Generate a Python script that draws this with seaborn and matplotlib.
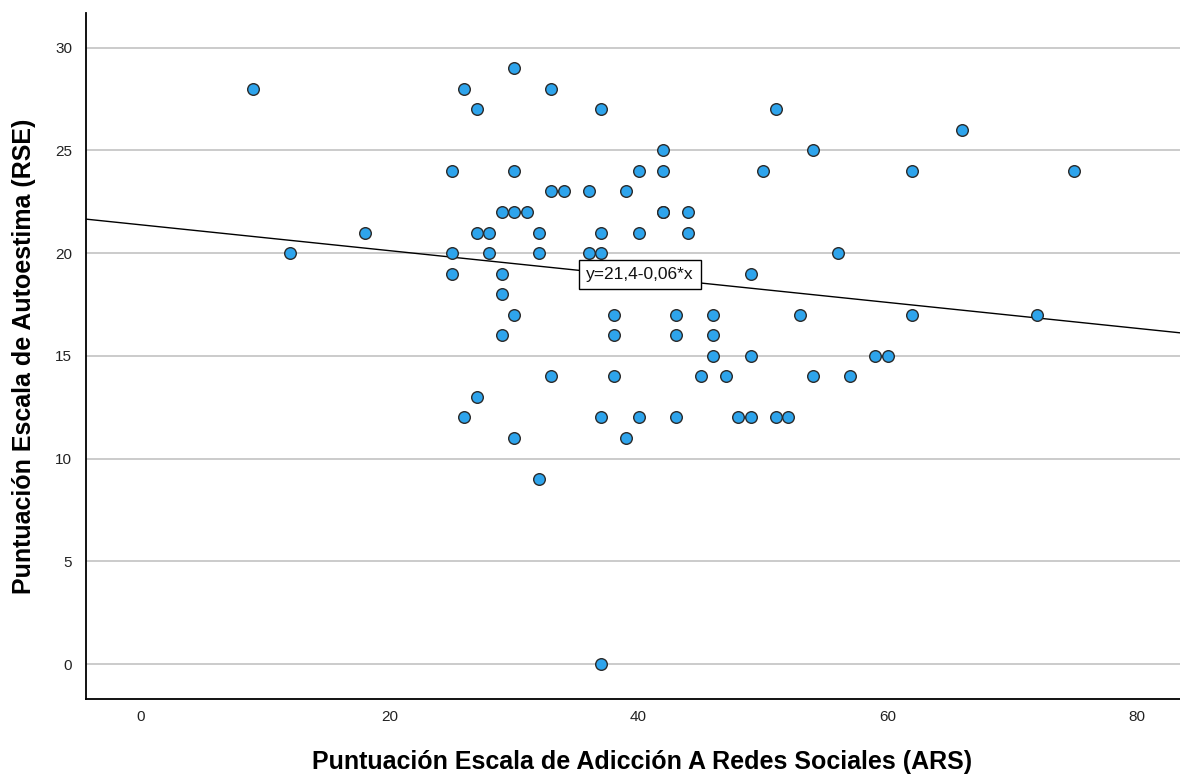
import numpy as np
import pandas as pd
import matplotlib
matplotlib.use("Agg")
import matplotlib.pyplot as plt
import seaborn as sns

# ---- data ----
ars = [9, 12, 18, 25, 25, 25, 26, 26, 27, 27, 27, 28, 28, 29, 29, 29, 29,
       30, 30, 30, 30, 30, 31, 32, 32, 32, 33, 33, 33, 34, 36, 36,
       37, 37, 37, 37, 37, 38, 38, 38, 39, 39, 40, 40, 40,
       42, 42, 42, 42, 43, 43, 43, 44, 44, 45, 46, 46, 46, 47, 48,
       49, 49, 49, 50, 51, 51, 52, 53, 54, 54, 56, 57, 59, 60,
       62, 62, 66, 72, 75]
rse = [28, 20, 21, 24, 20, 19, 28, 12, 27, 21, 13, 21, 20, 22, 19, 18, 16,
       29, 24, 22, 17, 11, 22, 21, 20, 9, 28, 23, 14, 23, 23, 20,
       27, 21, 20, 12, 0, 17, 16, 14, 23, 11, 24, 21, 12,
       25, 24, 22, 22, 17, 16, 12, 22, 21, 14, 17, 16, 15, 14, 12,
       19, 15, 12, 24, 27, 12, 12, 17, 25, 14, 20, 14, 15, 15,
       24, 17, 26, 17, 24]
x_ticks = [0, 20, 40, 60, 80]
y_ticks = [0, 5, 10, 15, 20, 25, 30]
x_label = "Puntuación Escala de Adicción A Redes Sociales (ARS)"
y_label = "Puntuación Escala de Autoestima (RSE)"
fit_label = "y=21,4-0,06*x"

df = pd.DataFrame({"ARS": ars, "RSE": rse})

sns.set_theme(style="white")
plt.rcParams["font.family"] = ["Liberation Sans", "DejaVu Sans"]

W, H = 1180, 775
fig = plt.figure(figsize=(W / 100, H / 100), dpi=100)
ax_left, ax_bottom_px, ax_top_px = 86, 699, 12.7
ax = fig.add_axes([ax_left / W, 1 - ax_bottom_px / H, (W - ax_left) / W,
                   (ax_bottom_px - ax_top_px) / H])
ax_h = ax_bottom_px - ax_top_px
ax_w = W - ax_left

xlim = (-4.4, 83.5)
ylim = (-1.7, 31.7)
ax.set_xlim(*xlim)
ax.set_ylim(*ylim)

for yv in y_ticks:
    ax.axhline(yv, color="#c2c2c2", lw=1.2, zorder=0)

sns.regplot(data=df, x="ARS", y="RSE", scatter=False, ci=None, truncate=False,
            line_kws=dict(color="black", lw=1.0, zorder=2), ax=ax)

sns.scatterplot(data=df, x="ARS", y="RSE", s=70, color="#2ea4ec",
                edgecolor="#2a2a2a", linewidth=1.0, zorder=3, ax=ax)

ax.set_xlim(*xlim)
ax.set_ylim(*ylim)
ax.set_xticks(x_ticks)
ax.set_yticks(y_ticks)
ax.tick_params(axis="both", length=0, labelsize=11, labelcolor="#222222")
ax.tick_params(axis="y", pad=10)
ax.tick_params(axis="x", pad=8)

for s in ["top", "right"]:
    ax.spines[s].set_visible(False)
for s in ["left", "bottom"]:
    ax.spines[s].set_color("black")
    ax.spines[s].set_linewidth(1.3)

ax.set_xlabel(x_label, fontsize=18, fontweight="bold", color="black")
ax.xaxis.set_label_coords((642 - ax_left) / ax_w, (ax_bottom_px - 768.5) / ax_h)
ax.xaxis.label.set_va("baseline")

ax.set_ylabel(y_label, fontsize=18, fontweight="bold", color="black")
ax.yaxis.set_label_coords((24 - ax_left) / ax_w, 0.5)
ax.yaxis.label.set_va("center")

ax.text(40.1, 18.95, fit_label, ha="center", va="center", fontsize=12.5,
        color="#111111", zorder=5,
        bbox=dict(boxstyle="square,pad=0.4", fc="white", ec="black", lw=1.0))

fig.savefig("out.png", dpi=100)
